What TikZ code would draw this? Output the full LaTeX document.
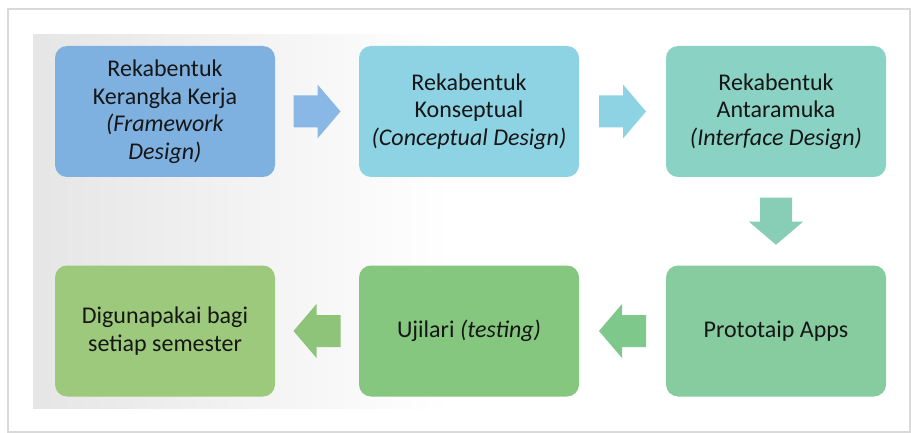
\documentclass[tikz,border=0pt]{standalone}
\usepackage{fontspec}
\setmainfont{Carlito}
\usetikzlibrary{calc}
\definecolor{cBa}{HTML}{7FB1E0}
\definecolor{cBb}{HTML}{8DD3E3}
\definecolor{cBc}{HTML}{8AD2C4}
\definecolor{cBd}{HTML}{86CC9E}
\definecolor{cBe}{HTML}{85C77F}
\definecolor{cBf}{HTML}{9CC97B}
\definecolor{cAa}{HTML}{89B7E6}
\definecolor{cAb}{HTML}{8DD3E3}
\definecolor{cAc}{HTML}{88CDB5}
\definecolor{cAd}{HTML}{7FC88C}
\definecolor{cAe}{HTML}{8DC47A}
\definecolor{txt}{HTML}{161616}
\newcommand{\blockarrow}[3]{%
  \fill[#3, shift={(#1)}, rotate=#2] (-23.5,-16) -- (0.5,-16) -- (0.5,-27) -- (23.5,0) -- (0.5,27) -- (0.5,16) -- (-23.5,16) -- cycle;}
\begin{document}
\begin{tikzpicture}[x=1pt,y=-1pt,
  box/.style={rounded corners=12pt, minimum width=220pt, minimum height=131pt,
    align=center, font=\fontsize{24}{27.5}\selectfont, text=txt, inner sep=0pt}]
\useasboundingbox (0,0) rectangle (911,433);
\fill[white] (0,0) rectangle (911,433);
\draw[gray!30, line width=1.2pt] (8,9) rectangle (910,432);
\shade[left color=gray!20, right color=white] (33,35) rectangle (450,408);
\node[box, fill=cBa] (b1) at (165,111.5) {Rekabentuk\\Kerangka Kerja\\\textit{(Framework}\\\textit{Design)}};
\node[box, fill=cBb] (b2) at (469,111.5) {Rekabentuk\\Konseptual\\\textit{(Conceptual Design)}};
\node[box, fill=cBc] (b3) at (776,111.5) {Rekabentuk\\Antaramuka\\\textit{(Interface Design)}};
\node[box, fill=cBd] (b4) at (776,331) {Prototaip Apps};
\node[box, fill=cBe] (b5) at (469,331) {Ujilari \textit{(testing)}};
\node[box, fill=cBf] (b6) at (165,331) {Digunapakai bagi\\setiap semester};
\coordinate (m12) at ($(b1.east)!0.5!(b2.west)$);
\coordinate (m23) at ($(b2.east)!0.5!(b3.west)$);
\coordinate (m34) at ($(b3.south)!0.5!(b4.north)$);
\coordinate (m45) at ($(b4.west)!0.5!(b5.east)$);
\coordinate (m56) at ($(b5.west)!0.5!(b6.east)$);
\blockarrow{m12}{0}{cAa}
\blockarrow{m23}{0}{cAb}
\blockarrow{m34}{-90}{cAc}
\blockarrow{m45}{180}{cAd}
\blockarrow{m56}{180}{cAe}
\end{tikzpicture}
\end{document}
